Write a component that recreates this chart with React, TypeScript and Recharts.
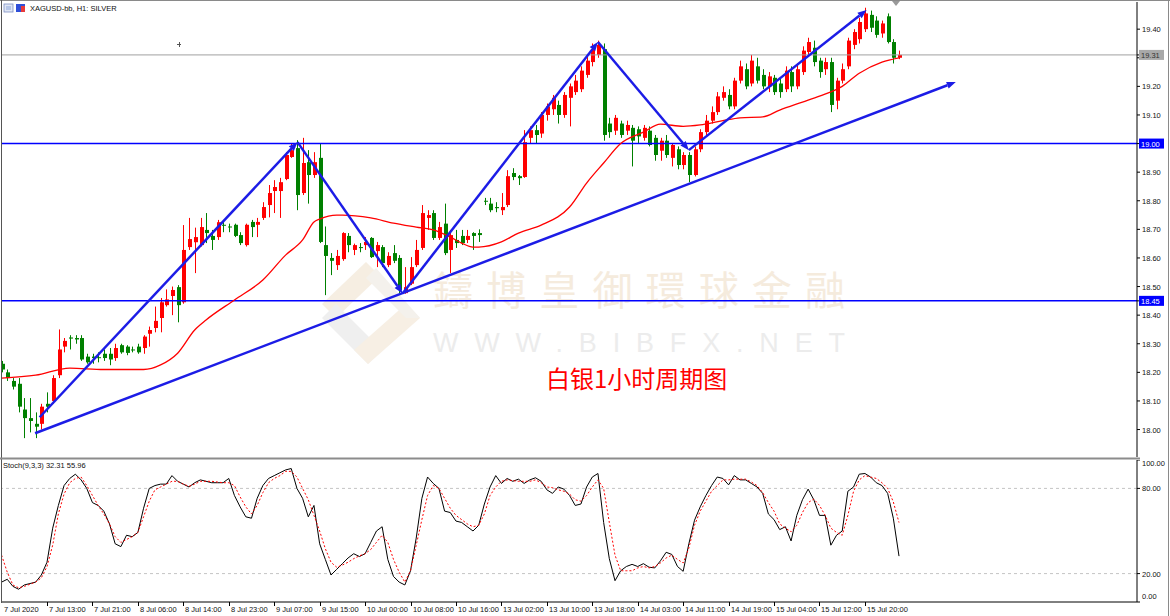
import React from "react";
import { ComposedChart, Bar, Line, XAxis, YAxis, ReferenceLine } from "recharts";

// XAGUSD H1 candles, 7 Jul 05:00 .. 16 Jul
const opens = [
  18.23, 18.2, 18.17, 18.16, 18.07, 18.04, 18.02, 18.02, 18.09, 18.1,
  18.19, 18.29, 18.322, 18.32, 18.32, 18.255, 18.255, 18.253, 18.265, 18.265,
  18.25, 18.295, 18.29, 18.28, 18.29, 18.285, 18.335, 18.355, 18.39, 18.435,
  18.467, 18.498, 18.445, 18.638, 18.655, 18.645, 18.698, 18.677, 18.673, 18.716,
  18.71, 18.716, 18.68, 18.645, 18.726, 18.716, 18.74, 18.785, 18.834, 18.834,
  18.876, 18.953, 18.984, 18.827, 18.935, 18.89, 18.95, 18.645, 18.6, 18.575,
  18.596, 18.677, 18.628, 18.638, 18.645, 18.67, 18.624, 18.638, 18.575, 18.617,
  18.6, 18.477, 18.51, 18.575, 18.635, 18.74, 18.757, 18.67, 18.72, 18.628,
  18.663, 18.677, 18.663, 18.687, 18.687, 18.8, 18.79, 18.778, 18.767, 18.785,
  18.897, 18.886, 18.883, 19.02, 19.047, 19.035, 19.1, 19.12, 19.135, 19.1,
  19.16, 19.18, 19.19, 19.24, 19.285, 19.31, 19.33, 19.07, 19.045, 19.07,
  19.045, 19.055, 19.05, 19.02, 19.045, 19.02, 18.975, 19.01, 18.95, 18.98,
  18.925, 18.96, 18.89, 18.98, 19.04, 19.08, 19.11, 19.16, 19.17, 19.13,
  19.22, 19.26, 19.21, 19.27, 19.24, 19.2, 19.23, 19.21, 19.19, 19.25,
  19.2, 19.25, 19.32, 19.335, 19.29, 19.26, 19.285, 19.15, 19.22, 19.27,
  19.345, 19.365, 19.4, 19.45, 19.43, 19.385, 19.445, 19.355, 19.3,
];
const highs = [
  18.24, 18.21, 18.18, 18.18, 18.11, 18.11, 18.06, 18.09, 18.13, 18.19,
  18.35, 18.32, 18.33, 18.33, 18.33, 18.265, 18.265, 18.27, 18.28, 18.285,
  18.3, 18.3, 18.295, 18.29, 18.3, 18.33, 18.36, 18.43, 18.46, 18.49,
  18.5, 18.505, 18.715, 18.74, 18.706, 18.74, 18.757, 18.698, 18.733, 18.733,
  18.72, 18.72, 18.69, 18.72, 18.733, 18.74, 18.795, 18.855, 18.872, 18.88,
  18.97, 19.0, 19.012, 19.02, 18.977, 18.97, 19.0, 18.71, 18.617, 18.628,
  18.69, 18.687, 18.65, 18.652, 18.673, 18.673, 18.656, 18.645, 18.62, 18.645,
  18.61, 18.568, 18.603, 18.663, 18.785, 18.767, 18.767, 18.726, 18.79, 18.698,
  18.698, 18.698, 18.698, 18.69, 18.7, 18.81, 18.81, 18.795, 18.827, 18.907,
  18.914, 18.89, 19.047, 19.06, 19.065, 19.11, 19.14, 19.17, 19.15, 19.18,
  19.21, 19.24, 19.27, 19.31, 19.35, 19.36, 19.35, 19.09, 19.1, 19.08,
  19.08, 19.065, 19.06, 19.065, 19.06, 19.03, 19.02, 19.03, 19.0, 18.99,
  18.97, 18.97, 18.99, 19.05, 19.1, 19.13, 19.18, 19.2, 19.19, 19.23,
  19.29, 19.28, 19.31, 19.3, 19.26, 19.25, 19.24, 19.23, 19.27, 19.27,
  19.28, 19.34, 19.37, 19.36, 19.3, 19.3, 19.3, 19.23, 19.28, 19.37,
  19.4, 19.44, 19.475, 19.465, 19.445, 19.43, 19.455, 19.365, 19.325,
];
const lows = [
  18.2, 18.17, 18.14, 18.06, 17.97, 17.99, 17.97, 18.0, 18.06, 18.09,
  18.18, 18.27, 18.28, 18.3, 18.24, 18.23, 18.23, 18.235, 18.24, 18.225,
  18.24, 18.265, 18.26, 18.27, 18.265, 18.265, 18.29, 18.34, 18.34, 18.43,
  18.4, 18.375, 18.44, 18.628, 18.547, 18.64, 18.652, 18.628, 18.663, 18.69,
  18.69, 18.673, 18.645, 18.64, 18.673, 18.673, 18.733, 18.742, 18.757, 18.74,
  18.872, 18.95, 18.767, 18.82, 18.79, 18.88, 18.652, 18.47, 18.54, 18.558,
  18.59, 18.62, 18.61, 18.62, 18.628, 18.6, 18.568, 18.568, 18.568, 18.582,
  18.477, 18.475, 18.505, 18.568, 18.628, 18.698, 18.663, 18.663, 18.61, 18.547,
  18.635, 18.645, 18.652, 18.628, 18.656, 18.785, 18.76, 18.76, 18.75, 18.778,
  18.872, 18.855, 18.88, 19.0, 19.0, 19.02, 19.08, 19.1, 19.07, 19.09,
  19.06, 19.17, 19.18, 19.23, 19.27, 19.3, 19.01, 19.02, 19.03, 19.02,
  19.03, 18.92, 19.0, 19.01, 18.99, 18.94, 18.94, 18.95, 18.92, 18.91,
  18.91, 18.865, 18.885, 18.97, 19.03, 19.07, 19.1, 19.15, 19.12, 19.12,
  19.21, 19.19, 19.2, 19.21, 19.19, 19.18, 19.17, 19.16, 19.18, 19.18,
  19.19, 19.24, 19.31, 19.27, 19.23, 19.24, 19.11, 19.12, 19.21, 19.26,
  19.33, 19.35, 19.39, 19.39, 19.37, 19.37, 19.35, 19.28, 19.295,
];
const closes = [
  18.21, 18.18, 18.15, 18.08, 18.04, 18.03, 18.01, 18.08, 18.08, 18.18,
  18.28, 18.31, 18.318, 18.315, 18.245, 18.235, 18.25, 18.25, 18.25, 18.245,
  18.285, 18.27, 18.268, 18.278, 18.27, 18.325, 18.348, 18.38, 18.445, 18.455,
  18.488, 18.435, 18.628, 18.666, 18.673, 18.708, 18.687, 18.663, 18.725, 18.715,
  18.708, 18.677, 18.652, 18.716, 18.708, 18.726, 18.778, 18.827, 18.848, 18.865,
  18.96, 18.977, 18.82, 18.932, 18.89, 18.935, 18.656, 18.607, 18.59, 18.607,
  18.687, 18.645, 18.645, 18.637, 18.656, 18.603, 18.645, 18.582, 18.607, 18.59,
  18.488, 18.498, 18.568, 18.628, 18.757, 18.75, 18.67, 18.708, 18.617, 18.68,
  18.652, 18.652, 18.677, 18.677, 18.68, 18.798, 18.767, 18.774, 18.778, 18.886,
  18.883, 18.879, 19.005, 19.047, 19.03, 19.1, 19.13, 19.16, 19.1, 19.17,
  19.2, 19.22, 19.255, 19.29, 19.33, 19.345, 19.03, 19.04, 19.09, 19.03,
  19.065, 19.01, 19.025, 19.055, 18.995, 18.96, 19.01, 18.96, 18.995, 18.925,
  18.96, 18.89, 18.98, 19.04, 19.08, 19.11, 19.165, 19.18, 19.13, 19.22,
  19.27, 19.2, 19.29, 19.22, 19.2, 19.235, 19.18, 19.18, 19.255, 19.2,
  19.26, 19.325, 19.355, 19.285, 19.25, 19.285, 19.135, 19.22, 19.26, 19.36,
  19.39, 19.425, 19.455, 19.405, 19.38, 19.42, 19.355, 19.3, 19.31,
];

// red moving average, read at selected bars
const maIndex = [0, 6, 12, 18, 23, 25, 28, 31, 34, 36, 41, 46, 50, 53, 55, 56, 59, 60, 65, 69, 73, 76, 79, 81, 83, 84, 88, 91, 95, 100, 103, 106, 109, 113, 116, 120, 123, 127, 130, 134, 137, 141, 144, 148, 151, 155, 158];
const maValue = [18.18, 18.19, 18.215, 18.21, 18.21, 18.21, 18.226, 18.267, 18.348, 18.383, 18.453, 18.523, 18.61, 18.663, 18.726, 18.736, 18.75, 18.75, 18.74, 18.722, 18.708, 18.698, 18.673, 18.652, 18.638, 18.638, 18.656, 18.687, 18.715, 18.778, 18.862, 18.932, 19.0, 19.04, 19.068, 19.06, 19.065, 19.08, 19.09, 19.093, 19.117, 19.145, 19.166, 19.2, 19.246, 19.285, 19.3];

// Stoch(9,3,3)
const stochK = [
  14, 16, 11, 9, 12, 13, 14, 19, 28, 52, 68, 82, 87, 90, 86, 80, 70, 68, 64, 55,
  41, 39, 47, 46, 49, 66, 80, 82, 83, 83, 89, 85, 83, 81, 84, 86, 85, 84, 84, 84,
  87, 75, 67, 60, 59, 73, 82, 87, 89, 91, 93, 94, 80, 73, 60, 68, 41, 30, 19, 23,
  27, 31, 34, 32, 34, 42, 50, 53, 30, 18, 14, 12, 22, 45, 73, 88, 83.5, 80, 64, 63,
  57, 56, 53, 50, 54, 69, 81, 89, 83.5, 87, 85, 86.5, 83.5, 86, 87.5, 85, 79, 76.5, 81, 79.5,
  75, 68, 69, 81, 88, 90.5, 56, 30.5, 15, 22, 25, 26.5, 25, 27, 24.5, 24, 29, 35, 33.5, 25,
  21.6, 41, 57.6, 67, 75, 82, 88, 87, 82.5, 89, 86, 86, 83.5, 81, 76.5, 62, 58, 51, 53, 43,
  61, 72, 79.5, 72, 61, 61, 40, 47, 50, 78, 81, 90, 90.5, 88, 84, 82, 76.5, 59, 32.31,
];
const stochD = [
  33, 21, 12, 10, 11, 12.5, 14, 17, 25, 40, 62, 76, 84, 87, 88, 82, 75, 68, 62, 55,
  46, 42, 44, 46, 49, 60, 71, 79, 81, 83, 85, 85, 83, 81.5, 83, 85, 85, 85, 84.5, 84,
  84, 82, 74, 67, 62, 68, 77, 84, 87, 89, 92, 92, 88, 80, 72, 61, 50, 37.5, 28, 24.5,
  26, 28, 30.5, 32.5, 34, 37, 42, 47, 42, 30, 21, 14, 22, 40, 58, 75, 82, 80, 73, 66,
  61, 58, 55, 53, 54, 62, 75, 81, 85, 86, 85.5, 85, 85, 85, 86, 84, 81, 80.5, 79, 78,
  76, 72, 71, 75, 81, 86, 80, 56, 33, 22, 22, 22, 24, 25, 24, 25, 27.5, 31, 33, 30,
  27.5, 38, 54, 64, 71, 78, 82, 86, 86, 86.5, 86.5, 86.5, 84.5, 82, 77, 70, 64, 55, 52, 49.5,
  54, 63, 70, 72.5, 68, 61, 52, 49, 47, 61, 78, 86, 89, 88, 87, 84, 80, 70.5, 55.96,
];

const timeLabels = [
  "7 Jul 2020", "7 Jul 13:00", "7 Jul 21:00", "8 Jul 06:00", "8 Jul 14:00", "8 Jul 23:00",
  "9 Jul 07:00", "9 Jul 15:00", "10 Jul 00:00", "10 Jul 08:00", "10 Jul 16:00", "13 Jul 02:00",
  "13 Jul 10:00", "13 Jul 18:00", "14 Jul 03:00", "14 Jul 11:00", "14 Jul 19:00", "15 Jul 04:00",
  "15 Jul 12:00", "15 Jul 20:00",
];
const barsPerLabel = 8;

const priceTicks = [18.0, 18.1, 18.2, 18.3, 18.4, 18.5, 18.6, 18.7, 18.8, 18.9, 19.0, 19.1, 19.2, 19.3, 19.4];
const levels = [19.0, 18.45];
const lastPrice = 19.31;
const stochLevels = [80, 20];
const stochTicks = [0, 20, 80, 100];

// hand-drawn analysis lines: [bar, price]
const zigzag = [[6.7, 18.043], [52.1, 19.005], [70.6, 18.476], [105.0, 19.355], [121.0, 18.977], [152.3, 19.467]];
const trendLine = [[5.9, 17.987], [168.0, 19.215]];

const X_DOMAIN = [-0.1, 199.9];
const FONT = "'Liberation Sans', Arial, sans-serif";
const BLUE = "#1c1ce6";

const mainData = opens.map((o, i) => {
  const mi = maIndex.indexOf(i);
  return {
    i,
    open: o,
    high: highs[i],
    low: lows[i],
    close: closes[i],
    range: [lows[i], highs[i]],
    ma: mi >= 0 ? maValue[mi] : null,
  };
});
const stochData = stochK.map((k, i) => ({ i, k, d: stochD[i] }));

const Candle = (props: any) => {
  const { x, y, width, height, payload } = props;
  if (x == null || !payload) return null;
  const { open, close, high, low } = payload;
  const top = Math.min(y, y + height);
  const h = Math.abs(height);
  const k = h / (high - low);
  const cx = Math.round(x + width / 2);
  const yO = top + (high - open) * k;
  const yC = top + (high - close) * k;
  const color = close >= open ? "#ff0000" : "#008000";
  const bTop = Math.min(yO, yC);
  const bH = Math.max(1, Math.abs(yC - yO));
  return (
    <g>
      <line x1={cx + 0.5} x2={cx + 0.5} y1={top} y2={top + h} stroke={color} strokeWidth={1} />
      <rect x={cx - 1} y={bTop} width={4} height={bH} fill={color} />
    </g>
  );
};

const ArrowSeg = (p: any) => {
  const { x1, y1, x2, y2 } = p;
  const a = Math.atan2(y2 - y1, x2 - x1);
  const L = 9;
  const W = 3.5;
  const bx = x2 - L * Math.cos(a);
  const by = y2 - L * Math.sin(a);
  const pts = `${x2},${y2} ${bx + W * Math.sin(a)},${by - W * Math.cos(a)} ${bx - W * Math.sin(a)},${by + W * Math.cos(a)}`;
  return (
    <g>
      <line x1={x1} y1={y1} x2={bx} y2={by} stroke={BLUE} strokeWidth={2.5} />
      <polygon points={pts} fill={BLUE} />
    </g>
  );
};

const PriceTick = (props: any) => {
  const { x, y, payload } = props;
  const v = payload.value;
  const isLast = Math.abs(v - lastPrice) < 1e-6;
  const isLevel = levels.some((l) => Math.abs(l - v) < 1e-6);
  if (isLast || isLevel) {
    return (
      <g>
        <rect x={x - 3} y={y - 5} width={25} height={10} fill={isLast ? "#a8a8a8" : "#0000ff"} />
        <text x={x - 1} y={y + 3} fontSize={7.5} fontFamily={FONT} fill={isLast ? "#333" : "#ffffff"}>{v.toFixed(2)}</text>
      </g>
    );
  }
  // the label right under the last-price box is hidden by it
  if (Math.abs(v - lastPrice) < 0.02) return null;
  return (
    <text x={x} y={y + 3} fontSize={7.5} fontFamily={FONT} fill="#111">{v.toFixed(2)}</text>
  );
};

const StochTick = (props: any) => {
  const { x, y, payload } = props;
  const v = payload.value;
  const dy = v === 100 ? 6 : v === 0 ? -3 : 3;
  return (
    <text x={x} y={y + dy} fontSize={7.5} fontFamily={FONT} fill="#111">{v.toFixed(2)}</text>
  );
};

const TimeTick = (props: any) => {
  const { x, y, payload } = props;
  const label = timeLabels[Math.round(payload.value / barsPerLabel)];
  const tx = Math.round(x);
  return (
    <g>
      {payload.value > 0 && <line x1={tx + 0.5} x2={tx + 0.5} y1={y} y2={y + 4} stroke="#000" />}
      <text x={tx + 2} y={y + 10} fontSize={7.5} fontFamily={FONT} fill="#111">{label}</text>
    </g>
  );
};

export default function App() {
  const timeTicks = timeLabels.map((_, j) => j * barsPerLabel);
  const allPriceTicks = [...priceTicks, 18.45, lastPrice];
  return (
    <div style={{ position: "absolute", left: 0, top: 0, width: 1170, height: 616, background: "#fff", overflow: "hidden", fontFamily: FONT }}>
      {/* watermark, behind the chart */}
      <svg width={1170} height={616} style={{ position: "absolute", left: 0, top: 0 }}>
        <g>
          <polygon points="366,262 380,276 336,318 322,304" fill="#f6eee2" />
          <polygon points="322,318 336,304 382,350 368,364" fill="#efefef" />
          <polygon points="368,364 354,350 406,304 420,318" fill="#f7efe4" />
          <polygon points="420,318 406,318 366,278 376,268" fill="#f4f1ec" />
        </g>
        <text x={433} y={305} fontSize={40} fill="#f5ebdd" fontFamily="'Noto Sans CJK TC', sans-serif" textLength={412} lengthAdjust="spacing">鑄博皇御環球金融</text>
        <text x={433} y={352} fontSize={27} fill="#ececec" fontFamily={FONT} textLength={412} lengthAdjust="spacing">WWW.BIBFX.NET</text>
      </svg>

      <div style={{ position: "absolute", left: 0, top: 0 }}>
        <ComposedChart width={1170} height={459} data={mainData} margin={{ top: 2, right: 0, left: 1, bottom: 2 }}>
          <XAxis type="number" dataKey="i" domain={X_DOMAIN} hide allowDataOverflow />
          <YAxis
            orientation="right"
            width={33}
            type="number"
            domain={[17.904, 19.495]}
            allowDataOverflow
            ticks={allPriceTicks}
            interval={0}
            tickSize={3}
            tickMargin={2}
            axisLine={{ stroke: "#000" }}
            tickLine={{ stroke: "#000" }}
            tick={<PriceTick />}
          />
          {levels.map((l) => (
            <ReferenceLine key={l} y={l} stroke="#0000ff" strokeWidth={1.5} ifOverflow="visible" />
          ))}
          <ReferenceLine y={lastPrice} stroke="#a0a0a0" strokeWidth={1} />
          <Bar dataKey="range" barSize={4} shape={<Candle />} isAnimationActive={false} />
          <Line dataKey="ma" type="monotone" connectNulls stroke="#ff0000" strokeWidth={1.3} dot={false} activeDot={false} isAnimationActive={false} />
          {zigzag.slice(1).map((p, j) => (
            <ReferenceLine
              key={"z" + j}
              segment={[{ x: zigzag[j][0], y: zigzag[j][1] }, { x: p[0], y: p[1] }]}
              ifOverflow="visible"
              shape={<ArrowSeg />}
            />
          ))}
          <ReferenceLine
            segment={[{ x: trendLine[0][0], y: trendLine[0][1] }, { x: trendLine[1][0], y: trendLine[1][1] }]}
            ifOverflow="visible"
            shape={<ArrowSeg />}
          />
        </ComposedChart>
      </div>

      <div style={{ position: "absolute", left: 0, top: 460 }}>
        <ComposedChart width={1170} height={156} data={stochData} margin={{ top: 0, right: 0, left: 1, bottom: 0 }}>
          <XAxis
            type="number"
            dataKey="i"
            domain={X_DOMAIN}
            allowDataOverflow
            ticks={timeTicks}
            interval={0}
            height={14}
            tickSize={0}
            tickMargin={0}
            tickLine={false}
            axisLine={{ stroke: "#000" }}
            tick={<TimeTick />}
          />
          <YAxis
            orientation="right"
            width={33}
            type="number"
            domain={[0, 100]}
            ticks={stochTicks}
            interval={0}
            tickSize={3}
            tickMargin={2}
            axisLine={{ stroke: "#000" }}
            tickLine={{ stroke: "#000" }}
            tick={<StochTick />}
          />
          {stochLevels.map((l) => (
            <ReferenceLine key={l} y={l} stroke="#c4c4c4" strokeDasharray="3 3" />
          ))}
          <Line dataKey="k" type="linear" stroke="#000" strokeWidth={1} dot={false} activeDot={false} isAnimationActive={false} />
          <Line dataKey="d" type="linear" stroke="#ff0000" strokeWidth={1} strokeDasharray="2 2" dot={false} activeDot={false} isAnimationActive={false} />
        </ComposedChart>
      </div>

      {/* frame, title and labels */}
      <svg width={1170} height={616} style={{ position: "absolute", left: 0, top: 0, pointerEvents: "none" }}>
        <line x1={0} x2={1170} y1={0.5} y2={0.5} stroke="#8a8a8a" />
        <line x1={1.5} x2={1.5} y1={0} y2={603} stroke="#555" />
        <line x1={1168.5} x2={1168.5} y1={0} y2={616} stroke="#8a8a8a" />
        <line x1={0} x2={1140} y1={458.5} y2={458.5} stroke="#8c8c8c" strokeWidth={2} />
        <rect x={4} y={4} width={9} height={8} fill="#dfe6f4" stroke="#7d8fc4" strokeWidth={0.8} />
        <rect x={6} y={6} width={5} height={4} fill="#b6c6e8" />
        <rect x={16} y={4} width={9} height={8} fill="#2f4fd8" />
        <rect x={21} y={6} width={4} height={6} fill="#e83a3a" />
        <text x={30} y={11} fontSize={7.5} fill="#111">XAGUSD-bb, H1:  SILVER</text>
        <text x={3} y={468} fontSize={7.5} fill="#111">Stoch(9,3,3) 32.31 55.96</text>
        <line x1={177} x2={181} y1={44.5} y2={44.5} stroke="#555" />
        <line x1={179.5} x2={179.5} y1={42} y2={47} stroke="#555" />
        <polygon points="892,1 900,1 896,6" fill="#9a9a9a" />
        <text x={546} y={388} fontSize={24} fill="#ff0000" fontFamily="'Noto Sans CJK SC', sans-serif">白银1小时周期图</text>
      </svg>
    </div>
  );
}
